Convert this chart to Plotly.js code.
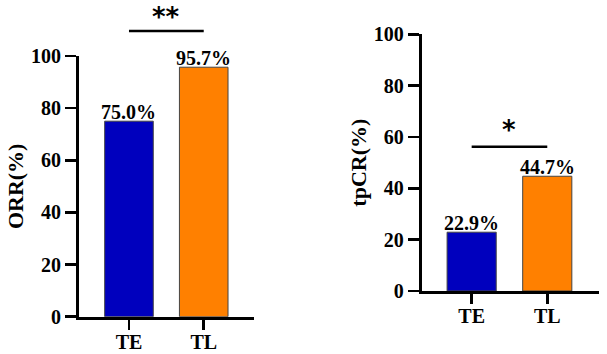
<!DOCTYPE html>
<html>
<head>
<meta charset="utf-8">
<script src="https://cdn.plot.ly/plotly-3.0.1.min.js"></script>
<style>
html,body{margin:0;padding:0;background:#fff;}
#chart{width:607px;height:354px;}
#chart .xtick text, #chart .ytick text, #chart text.ytitle, #chart text.y2title {
  font-family: "Liberation Serif", "Times New Roman", serif !important;
  font-weight: bold !important;
}
</style>
</head>
<body>
<div id="chart"></div>
<script>
const categories = ['TE', 'TL'];
const orrValues = [75.0, 95.7];
const tpcrValues = [22.9, 44.7];
const barColors = ['#0000BE', '#FF8000'];
const yTickVals = [0, 20, 40, 60, 80, 100];
const leftTitle = 'ORR(%)';
const rightTitle = 'tpCR(%)';
const leftSig = '**';
const rightSig = '*';

const SERIF = 'Liberation Serif, Times New Roman, serif';
const serifBold = {family: SERIF, size: 20, color: '#000', weight: 'bold'};
const fmt = v => v.toFixed(1) + '%';
const serifSpan = s => '<span style="font-family:Liberation Serif, Times New Roman, serif;font-weight:bold">' + s + '</span>';

function barTrace(vals, xa, ya) {
  return {
    type: 'bar', x: categories, y: vals, xaxis: xa, yaxis: ya,
    width: 0.65,
    marker: {color: barColors, line: {color: '#444', width: 1}},
    hoverinfo: 'none'
  };
}
function valueLabels(vals, xa, ya) {
  return vals.map((v, i) => ({
    xref: xa, yref: ya, x: categories[i], y: v, text: fmt(v),
    yanchor: 'bottom', yshift: -4, showarrow: false, font: serifBold
  }));
}

const xBase = {
  type: 'category', showline: true, linewidth: 3, linecolor: '#000',
  tickvals: categories, ticktext: categories.map(serifSpan),
  ticks: 'outside', ticklen: 10, tickwidth: 2.5, tickcolor: '#000',
  tickfont: {family: SERIF, size: 20, color: '#000', weight: 'bold'}, ticklabelstandoff: -5, showgrid: false, zeroline: false, fixedrange: true
};
const yBase = {
  range: [0, 100], tickvals: yTickVals, ticktext: yTickVals.map(v => serifSpan(String(v))),
  showline: true, linewidth: 3, linecolor: '#000',
  ticks: 'outside', ticklen: 11, tickwidth: 2.5, tickcolor: '#000',
  tickfont: {family: SERIF, size: 20, color: '#000', weight: 'bold'}, showgrid: false, zeroline: false, fixedrange: true
};
const titleFont = {family: SERIF, size: 22, color: '#000', weight: 'bold'};
const sigFont = {family: 'DejaVu Sans, sans-serif', size: 26, color: '#000', weight: 'bold'};

const layout = {
  width: 607, height: 354,
  margin: {l: 0, r: 0, t: 0, b: 0},
  paper_bgcolor: '#fff', plot_bgcolor: '#fff',
  showlegend: false,
  font: {family: SERIF, size: 20, color: '#000', weight: 'bold'},
  xaxis: Object.assign({}, xBase, {domain: [0.1301, 0.419], range: [-0.669, 1.677], anchor: 'y'}),
  yaxis: Object.assign({}, yBase, {domain: [0.1054, 0.8418], anchor: 'x', title: {text: serifSpan(leftTitle), font: titleFont}}),
  xaxis2: Object.assign({}, xBase, {domain: [0.6947, 0.9868], range: [-0.661, 1.684], anchor: 'y2'}),
  yaxis2: Object.assign({}, yBase, {domain: [0.178, 0.9031], anchor: 'x2', title: {text: serifSpan(rightTitle), font: titleFont}}),
  shapes: [
    {type: 'line', xref: 'x', yref: 'paper', x0: 0, x1: 1, y0: 0.9124, y1: 0.9124, line: {color: '#000', width: 2.5}},
    {type: 'line', xref: 'x2', yref: 'paper', x0: 0, x1: 1, y0: 0.5856, y1: 0.5856, line: {color: '#000', width: 2.5}}
  ],
  annotations: [
    {xref: 'x', yref: 'paper', x: 0.5, y: 1.0, yanchor: 'top', yshift: 0, text: leftSig, showarrow: false, font: sigFont},
    {xref: 'x2', yref: 'paper', x: 0.5, y: 0.634, text: rightSig, showarrow: false, font: sigFont}
  ].concat(valueLabels(orrValues, 'x', 'y'), valueLabels(tpcrValues, 'x2', 'y2'))
};

Plotly.newPlot('chart', [barTrace(orrValues, 'x', 'y'), barTrace(tpcrValues, 'x2', 'y2')], layout,
  {staticPlot: true, displayModeBar: false});
</script>
</body>
</html>
